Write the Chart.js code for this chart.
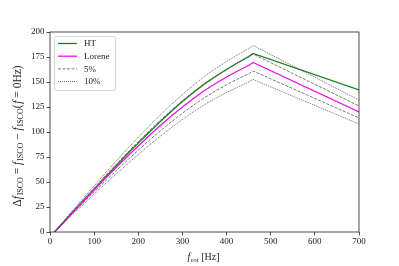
<!DOCTYPE html>
<html><head><meta charset="utf-8">
<script src="https://cdn.jsdelivr.net/npm/chart.js@4/dist/chart.umd.min.js"></script>
<style>html,body{margin:0;padding:0;background:#fff}canvas{display:block}</style>
</head><body>
<canvas id="c" width="399" height="266"></canvas>
<script>
const freqHz   = [10, 25, 50, 75, 100, 125, 150, 175, 200, 225, 250, 275, 300, 325, 350, 375, 400, 425, 450, 460, 700];
const htValues = [0, 7, 19.2, 31, 42.8, 54.8, 66.3, 78, 89, 99.8, 110.5, 120.8, 130.5, 139.5, 148, 155.5, 162.5, 169.3, 175.5, 178.5, 142];
const loreneValues = [0, 7, 19, 30.5, 42, 53.5, 64.5, 75.5, 86, 96.5, 106.5, 116, 125, 133.5, 141.5, 148.5, 155, 161, 166.5, 169.5, 120];
const plus5Values  = [0, 7.4, 20, 32, 44.1, 56.2, 67.7, 79.3, 90.3, 101.3, 111.8, 121.8, 131.3, 140.2, 148.6, 155.9, 162.8, 169.1, 174.8, 178, 126];
const minus5Values = [0, 6.7, 18, 29, 39.9, 50.8, 61.3, 71.7, 81.7, 91.7, 101.2, 110.2, 118.8, 126.8, 134.4, 141.1, 147.3, 153, 158.2, 161, 114];
const plus10Values = [0, 7.7, 20.9, 33.6, 46.2, 58.9, 71, 83.1, 94.6, 106.2, 117.2, 127.6, 137.5, 146.9, 155.7, 163.4, 170.5, 177.1, 183.2, 186.5, 132];
const minus10Values= [0, 6.3, 17.1, 27.5, 37.8, 48.2, 58, 68, 77.4, 86.9, 95.9, 104.4, 112.5, 120.2, 127.4, 133.7, 139.5, 144.9, 149.9, 152.6, 108];
const xTickValues = [0, 100, 200, 300, 400, 500, 600, 700];
const yTickValues = [0, 25, 50, 75, 100, 125, 150, 175, 200];
const legendLabels = ['HT', 'Lorene', '5%', '10%'];

const SERIF = '"Liberation Serif", "DejaVu Serif", serif';
const pts = v => freqHz.map((f, i) => ({x: f, y: v[i]}));
const GREEN = '#1a801a', MAG = '#ee10ee', GREY5 = '#555555', GREY10 = '#444444';

function ds(label, vals, color, dash, width) {
  return {label, data: pts(vals), borderColor: color, borderDash: dash, borderWidth: width,
          pointRadius: 0, tension: 0, fill: false};
}

const legendStyles = [
  {color: GREEN, dash: [], w: 1.3},
  {color: MAG, dash: [], w: 1.3},
  {color: GREY5, dash: [3, 1.5], w: 0.8},
  {color: GREY10, dash: [1, 1], w: 0.8}
];

const decor = {
  id: 'decor',
  afterDatasetsDraw(chart) {
    const {ctx, chartArea: a} = chart;
    ctx.save();
    ctx.strokeStyle = '#222'; ctx.lineWidth = 0.8; ctx.setLineDash([]);
    ctx.strokeRect(a.left, a.top, a.right - a.left, a.bottom - a.top);
    const bx = a.left + 4.5, by = a.top + 4.5, bw = 61, bh = 54;
    ctx.fillStyle = 'rgba(255,255,255,0.85)';
    ctx.strokeStyle = '#cccccc'; ctx.lineWidth = 0.8;
    ctx.beginPath();
    if (ctx.roundRect) ctx.roundRect(bx, by, bw, bh, 2); else ctx.rect(bx, by, bw, bh);
    ctx.fill(); ctx.stroke();
    ctx.font = '9px ' + SERIF; ctx.textBaseline = 'middle'; ctx.textAlign = 'left';
    legendLabels.forEach((t, i) => {
      const y = by + 7 + i * 12.7;
      const s = legendStyles[i];
      ctx.strokeStyle = s.color; ctx.lineWidth = s.w; ctx.setLineDash(s.dash);
      ctx.beginPath(); ctx.moveTo(bx + 3.5, y); ctx.lineTo(bx + 22.5, y); ctx.stroke();
      ctx.setLineDash([]);
      ctx.fillStyle = '#222'; ctx.fillText(t, bx + 29.5, y + 0.5);
    });
    ctx.restore();
    drawRich(ctx, [['Δ','n'],['f','i'],[' ','t'],['ISCO','s'],[' = ','n'],['f','i'],[' ','t'],['ISCO','s'],[' − ','n'],['f','i'],[' ','t'],['ISCO','s'],['(','n'],[' ','t'],['f','i'],[' = 0Hz)','n']],
             17, 136, true, 11.5, 8);
    drawRich(ctx, [['f','i'],[' ','t'],['rot','s'],[' [Hz]','n']], (a.left + a.right) / 2 - 1, 256, false, 10, 7);
  }
};

function drawRich(ctx, parts, cx, cy, rotate, size, sub) {
  ctx.save();
  ctx.translate(cx, cy);
  if (rotate) ctx.rotate(-Math.PI / 2);
  const fonts = {n: size + 'px ' + SERIF, i: 'italic ' + size + 'px ' + SERIF, s: sub + 'px ' + SERIF, t: '3px ' + SERIF};
  let total = 0;
  parts.forEach(p => { ctx.font = fonts[p[1]]; total += ctx.measureText(p[0]).width; });
  let x = -total / 2;
  ctx.fillStyle = '#222'; ctx.textBaseline = 'alphabetic'; ctx.textAlign = 'left';
  parts.forEach(p => {
    ctx.font = fonts[p[1]];
    ctx.fillText(p[0], x, p[1] === 's' ? size * 0.55 : size * 0.35);
    x += ctx.measureText(p[0]).width;
  });
  ctx.restore();
}

new Chart(document.getElementById('c'), {
  type: 'line',
  data: {datasets: [
    ds('10% upper', plus10Values, GREY10, [1, 1], 0.8),
    ds('10% lower', minus10Values, GREY10, [1, 1], 0.8),
    ds('5% upper', plus5Values, GREY5, [3, 1.5], 0.8),
    ds('5% lower', minus5Values, GREY5, [3, 1.5], 0.8),
    ds('Lorene', loreneValues, MAG, [], 1.3),
    ds('HT', htValues, GREEN, [], 1.3)
  ]},
  options: {
    responsive: false, animation: false, devicePixelRatio: 1,
    layout: {padding: {left: 0, right: 40, top: 32, bottom: 0}},
    plugins: {legend: {display: false}, tooltip: {enabled: false}},
    scales: {
      x: {type: 'linear', min: 0, max: 700,
          afterBuildTicks: s => { s.ticks = xTickValues.map(v => ({value: v})); },
          afterFit: s => { s.height = 34; },
          grid: {drawOnChartArea: false, tickLength: 3.5, color: '#222', lineWidth: 0.8},
          border: {display: false},
          ticks: {font: {family: SERIF, size: 9}, color: '#222', padding: 1, maxRotation: 0}},
      y: {type: 'linear', min: 0, max: 200,
          afterBuildTicks: s => { s.ticks = yTickValues.map(v => ({value: v})); },
          afterFit: s => { s.width = 50; },
          grid: {drawOnChartArea: false, tickLength: 3.5, color: '#222', lineWidth: 0.8},
          border: {display: false},
          ticks: {font: {family: SERIF, size: 9}, color: '#222', padding: 2}}
    }
  },
  plugins: [decor]
});
</script>
</body></html>
